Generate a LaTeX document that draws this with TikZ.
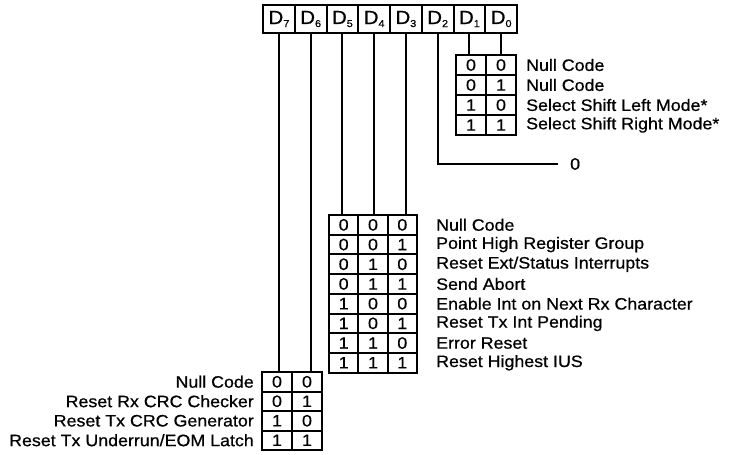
\documentclass[tikz,border=0pt]{standalone}
\usepackage{fontspec}
\setmainfont{Liberation Sans}[FakeStretch=1.08,FakeBold=0.7]
\usepackage{tikz}
\newcommand{\bitsub}[1]{D\raisebox{-3pt}{\fontsize{10}{10}\selectfont #1}}

\begin{document}
\begin{tikzpicture}[x=1pt,y=-1pt,
  wire/.style={line width=1.8pt},
  regcell/.style={draw,line width=2pt,minimum width=31.75pt,minimum height=28pt,inner sep=0pt,font=\fontsize{19}{19}\selectfont},
  bitcell/.style={draw,line width=2pt,minimum width=#1,minimum height=20pt,inner sep=0pt,font=\fontsize{16.5}{16.5}\selectfont},
  bitcell/.default=30pt,
  lbl/.style={inner sep=0pt,font=\fontsize{16.5}{16.5}\selectfont}]
  \useasboundingbox (0,0) rectangle (740,455);
  % register bits
  \foreach \b [count=\i from 0] in {7,6,5,4,3,2,1,0}
    \node[regcell] (d\b) at ({263+31.75*(\i+0.5)},19) {\bitsub{\b}};
  % D1 D0
  \foreach \u/\v/\t [count=\r from 0] in {0/0/Null Code,0/1/Null Code,1/0/Select Shift Left Mode*,1/1/Select Shift Right Mode*}{
    \node[bitcell,minimum height=20pt] (a\r1) at (471,{55+20*(\r+0.5)}) {\u};
    \node[bitcell,minimum height=20pt] (a\r0) at (501,{55+20*(\r+0.5)}) {\v};
    \node[lbl,anchor=west] (la\r) at (526,{55+20*(\r+0.5)}) {\t};}
  \draw[wire] (d1.south) -- (d1.south |- a01.north);
  \draw[wire] (d0.south) -- (d0.south |- a00.north);
  % D2
  \node[lbl,anchor=west] (zero) at (570,164) {0};
  \draw[wire] (d2.south) |- ([xshift=-12pt]zero.west);
  % D5 D4 D3
  \foreach \u/\v/\w/\t [count=\r from 0] in {0/0/0/Null Code,0/0/1/Point High Register Group,0/1/0/{Reset Ext/Status Interrupts},0/1/1/Send Abort,1/0/0/Enable Int on Next Rx Character,1/0/1/Reset Tx Int Pending,1/1/0/Error Reset,1/1/1/Reset Highest IUS}{
    \node[bitcell=29.3pt,minimum height=19.7pt] (b\r5) at (343.7,{215+19.7*(\r+0.5)}) {\u};
    \node[bitcell=29.3pt,minimum height=19.7pt] (b\r4) at (373,{215+19.7*(\r+0.5)}) {\v};
    \node[bitcell=29.3pt,minimum height=19.7pt] (b\r3) at (402.3,{215+19.7*(\r+0.5)}) {\w};
    \node[lbl,anchor=west] (lb\r) at (436,{215+19.7*(\r+0.5)}) {\t};}
  \foreach \b in {5,4,3}
    \draw[wire] (d\b.south) -- (d\b.south |- b0\b.north);
  % D7 D6
  \foreach \u/\v/\t [count=\r from 0] in {0/0/Null Code,0/1/Reset Rx CRC Checker,1/0/Reset Tx CRC Generator,1/1/{Reset Tx Underrun/EOM Latch}}{
    \node[bitcell,minimum height=19.5pt] (c\r7) at (277,{372+19.5*(\r+0.5)}) {\u};
    \node[bitcell,minimum height=19.5pt] (c\r6) at (307,{372+19.5*(\r+0.5)}) {\v};
    \node[lbl,anchor=east] (lc\r) at (254,{372+19.5*(\r+0.5)}) {\t};}
  \foreach \b in {7,6}
    \draw[wire] (d\b.south) -- (d\b.south |- c0\b.north);
\end{tikzpicture}
\end{document}
